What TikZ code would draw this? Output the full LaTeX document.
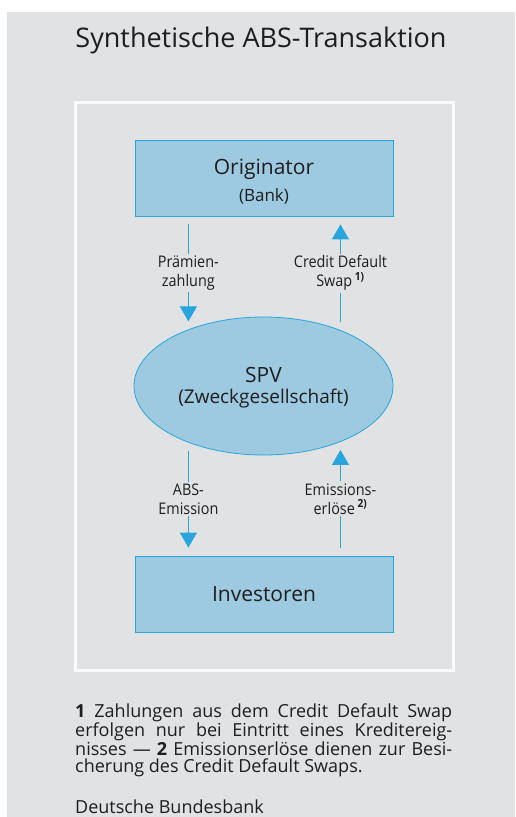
\documentclass[tikz,border=0pt]{standalone}
\usepackage{fontspec}
\setmainfont{Open Sans}
\newfontfamily\condfont[FakeStretch=0.9]{Open Sans}
\usepackage{xcolor}
\usetikzlibrary{positioning,shapes.geometric,arrows.meta}
\definecolor{panelgray}{HTML}{E1E2E4}
\definecolor{boxblue}{HTML}{9DCAE0}
\definecolor{lineblue}{HTML}{2AA5DC}
\definecolor{inkgray}{HTML}{1E1E1E}

\begin{document}
\begin{tikzpicture}[x=1pt,y=-1pt,
  box/.style={draw=lineblue,fill=boxblue,line width=0.8pt,minimum width=258pt,minimum height=76pt,inner sep=0pt,align=center,text=inkgray},
  flow/.style={lineblue,line width=1.2pt,-{Triangle[width=17pt,length=15pt]},shorten <=8pt,shorten >=8pt},
  lbl/.style={fill=panelgray,inner sep=2pt,align=center,text=inkgray,font=\condfont\fontsize{16}{19}\selectfont}]
  \useasboundingbox (0,0) rectangle (515,817);
  \fill[white] (0,0) rectangle (515,817);
  \fill[panelgray] (7,12) rectangle (515,817);
  \draw[white!97!gray,line width=3pt] (75,102) rectangle (453,670);

  \node[anchor=base,text=inkgray,font=\fontsize{27}{32}\selectfont] (title) at (261,47) {Synthetische ABS-Transaktion};

  % the three parties
  \node[box,font=\fontsize{21}{26.5}\selectfont] (orig) at (264,178) {\rule{0pt}{23pt}Originator\\[0pt]{\fontsize{17}{20}\selectfont (Bank)}};
  \node[box,ellipse,minimum width=259pt,minimum height=138pt,font=\fontsize{19}{21}\selectfont] (spv) at (263.5,386) {\rule{0pt}{19pt}{\fontsize{21}{21}\selectfont SPV}\\(Zweckgesellschaft)};
  \node[box,font=\fontsize{21}{25}\selectfont] (inv) at (264,594) {Investoren};

  % flows
  \draw[flow] (spv.143 |- orig.south) -- node[lbl] {Prämien-\\zahlung} (spv.143);
  \draw[flow] (spv.36) -- node[lbl] {Credit Default\\Swap\,\textsuperscript{\bfseries 1)}} (spv.36 |- orig.south);
  \draw[flow] (spv.-143) -- node[lbl] {ABS-\\Emission} (spv.-143 |- inv.north);
  \draw[flow] (spv.-36 |- inv.north) -- node[lbl] {Emissions-\\erlöse\,\textsuperscript{\bfseries 2)}} (spv.-36);

  \node[anchor=base west,text width=377pt,align=justify,inner sep=0pt,text=inkgray,font=\fontsize{18}{17.5}\selectfont] (notes) at (75,717)
    {\textbf{1} Zahlungen aus dem Credit Default Swap\linebreak erfolgen nur bei Eintritt eines Kreditereig-\linebreak nisses --- \textbf{2} Emissionserlöse dienen zur Besi-\linebreak cherung des Credit Default Swaps.};
  \node[anchor=base west,inner sep=0pt,text=inkgray,font=\fontsize{18}{17.5}\selectfont] (source) at (75,813) {Deutsche Bundesbank};
\end{tikzpicture}
\end{document}
